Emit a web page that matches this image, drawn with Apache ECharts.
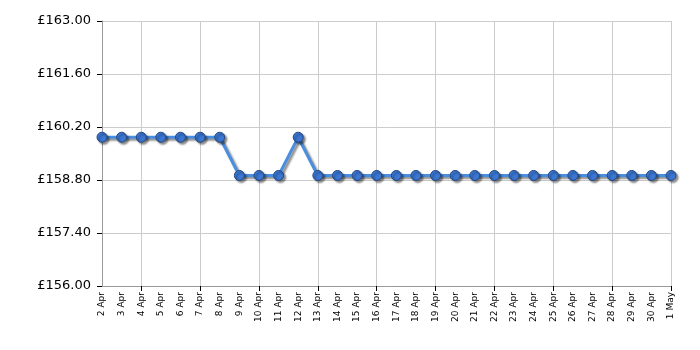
<!DOCTYPE html>
<html><head><meta charset="utf-8">
<script src="https://cdn.jsdelivr.net/npm/echarts@6/dist/echarts.min.js"></script>
<style>html,body{margin:0;padding:0;background:#fff}#c{width:700px;height:350px}</style>
</head><body><div id="c"></div>
<script>
var categories = ['2 Apr','3 Apr','4 Apr','5 Apr','6 Apr','7 Apr','8 Apr','9 Apr','10 Apr','11 Apr','12 Apr','13 Apr','14 Apr','15 Apr','16 Apr','17 Apr','18 Apr','19 Apr','20 Apr','21 Apr','22 Apr','23 Apr','24 Apr','25 Apr','26 Apr','27 Apr','28 Apr','29 Apr','30 Apr','1 May'];
var prices = [159.93,159.93,159.93,159.93,159.93,159.93,159.93,158.92,158.92,158.92,159.93,158.92,158.92,158.92,158.92,158.92,158.92,158.92,158.92,158.92,158.92,158.92,158.92,158.92,158.92,158.92,158.92,158.92,158.92,158.92];
var yMin = 156, yMax = 163, yStep = 1.4;

var chart = echarts.init(document.getElementById('c'), null, {renderer:'canvas'});
var every3 = function(i){ return i % 3 === 2; };
chart.setOption({
  animation:false,
  grid:{left:102, right:29, top:21, bottom:64},
  xAxis:{
    type:'category', data:categories, boundaryGap:false,
    axisLine:{lineStyle:{color:'#999', width:1}},
    axisTick:{show:true, interval:every3, length:5, lineStyle:{color:'#000'}},
    splitLine:{show:true, interval:every3, lineStyle:{color:'#ccc'}},
    axisLabel:{interval:0, rotate:90, fontFamily:'DejaVu Sans', fontSize:9, color:'#000', margin:6}
  },
  yAxis:{
    type:'value', min:yMin, max:yMax, interval:yStep,
    axisLine:{show:true, lineStyle:{color:'#999'}},
    axisTick:{show:true, length:5, lineStyle:{color:'#000'}},
    splitLine:{show:true, lineStyle:{color:'#ccc'}},
    axisLabel:{fontFamily:'DejaVu Sans', fontSize:13, color:'#000', margin:11,
      formatter:function(v){return '£'+v.toFixed(2);}}
  },
  series:[{
    type:'line', data:prices, symbol:'circle', symbolSize:10,
    lineStyle:{color:'#4a8ee0', width:3, shadowColor:'rgba(0,0,0,0.45)', shadowOffsetX:2, shadowOffsetY:2, shadowBlur:2},
    itemStyle:{color:'#3a76d2', borderColor:'#24467e', borderWidth:1, shadowColor:'rgba(0,0,0,0.45)', shadowOffsetX:2, shadowOffsetY:2, shadowBlur:2}
  }]
});
</script></body></html>
